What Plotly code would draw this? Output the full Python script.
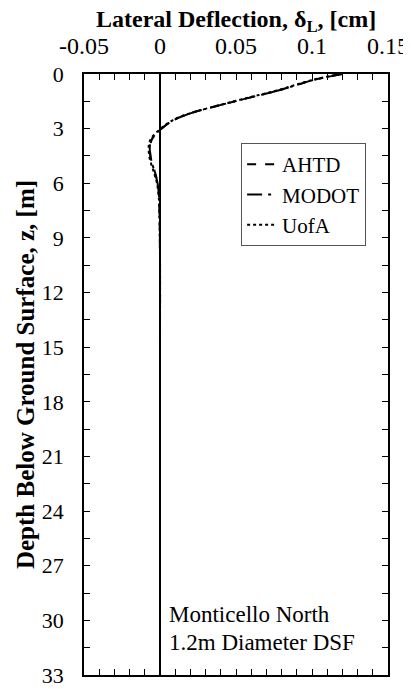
import plotly.graph_objects as go

depth_m = [0, 0.33, 0.88, 1.34, 1.8, 2.16, 2.53, 2.98, 3.44, 3.8, 4.54, 5.46, 6.0, 6.9, 8.0, 10.0, 15.0, 20.0, 25.0, 30.0, 33.0]
ahtd_cm = [0.119, 0.101, 0.079, 0.057, 0.0354, 0.020, 0.009, 0.0013, -0.0043, -0.0062, -0.0062, -0.0031, -0.0016, -0.0005, -0.0002, 0, 0, 0, 0, 0, 0]
modot_cm = [0.120, 0.101, 0.079, 0.057, 0.0354, 0.020, 0.009, 0.0013, -0.0043, -0.0064, -0.0063, -0.0032, -0.0016, -0.0005, -0.0002, 0, 0, 0, 0, 0, 0]
uofa_cm = [0.119, 0.100, 0.078, 0.056, 0.0350, 0.0195, 0.0085, 0.0008, -0.0050, -0.0072, -0.0070, -0.0038, -0.0020, -0.0007, -0.0003, 0, 0, 0, 0, 0, 0]

x_ticks = [-0.05, 0, 0.05, 0.1, 0.15]
x_ticktext = ["-0.05", "0", "0.05", "0.1", "0.15"]
y_ticks = [0, 3, 6, 9, 12, 15, 18, 21, 24, 27, 30, 33]
x_title = "<b>Lateral Deflection, δ<sub>L</sub>, [cm]</b>"
y_title = "<b>Depth Below Ground Surface, z, [m]</b>"
note_lines = ["Monticello North", "1.2m Diameter DSF"]

FONT = "Liberation Serif"

fig = go.Figure()
fig.add_trace(go.Scatter(x=ahtd_cm, y=depth_m, mode="lines", name="AHTD",
                         line=dict(color="black", width=2, dash="dash", shape="spline")))
fig.add_trace(go.Scatter(x=modot_cm, y=depth_m, mode="lines", name="MODOT",
                         line=dict(color="black", width=2, dash="longdashdot", shape="spline")))
fig.add_trace(go.Scatter(x=uofa_cm, y=depth_m, mode="lines", name="UofA",
                         line=dict(color="black", width=2, dash="dot", shape="spline")))

fig.update_layout(
    width=403, height=681,
    margin=dict(l=76, r=23, t=66, b=14),
    paper_bgcolor="white", plot_bgcolor="white",
    font=dict(family=FONT, size=23, color="black"),
    showlegend=True,
    legend=dict(x=0.928, y=0.885, xanchor="right", yanchor="top",
                bordercolor="#555", borderwidth=1, bgcolor="white",
                font=dict(family=FONT, size=21), itemwidth=30,
                tracegroupgap=0),
    xaxis=dict(
        range=[-0.05, 0.15], side="top", automargin=False,
        tickvals=x_ticks, ticktext=x_ticktext,
        ticks="inside", ticklen=6, tickcolor="black", tickwidth=1,
        minor=dict(dtick=0.01, tick0=0, ticks="inside", ticklen=6, tickcolor="black"),
        showline=True, linecolor="black", linewidth=1.5, mirror="ticks",
        showgrid=False, zeroline=True, zerolinecolor="black", zerolinewidth=1.5,
        tickfont=dict(family=FONT, size=24), ticklabelstandoff=9,
    ),
    yaxis=dict(
        range=[33, 0], automargin=False,
        tickvals=y_ticks,
        ticks="inside", ticklen=6, tickcolor="black", tickwidth=1,
        minor=dict(dtick=1.5, tick0=0, ticks="inside", ticklen=6, tickcolor="black"),
        showline=True, linecolor="black", linewidth=1.5, mirror="ticks",
        showgrid=False, zeroline=False,
        tickfont=dict(family=FONT, size=22), ticklabelstandoff=14,
        title=dict(text=y_title, font=dict(family=FONT, size=25), standoff=0),
    ),
    annotations=[
        dict(text=x_title, x=0.5, y=1, xref="paper", yref="paper",
             xanchor="center", yanchor="middle", yshift=53, showarrow=False,
             font=dict(family=FONT, size=24)),
        dict(text=note_lines[0], x=0.0045, y=29.7, xref="x", yref="y",
             xanchor="left", yanchor="middle", showarrow=False,
             font=dict(family=FONT, size=23)),
        dict(text=note_lines[1], x=0.0045, y=31.2, xref="x", yref="y",
             xanchor="left", yanchor="middle", showarrow=False,
             font=dict(family=FONT, size=23)),
    ],
)

fig.write_html("out.html")
